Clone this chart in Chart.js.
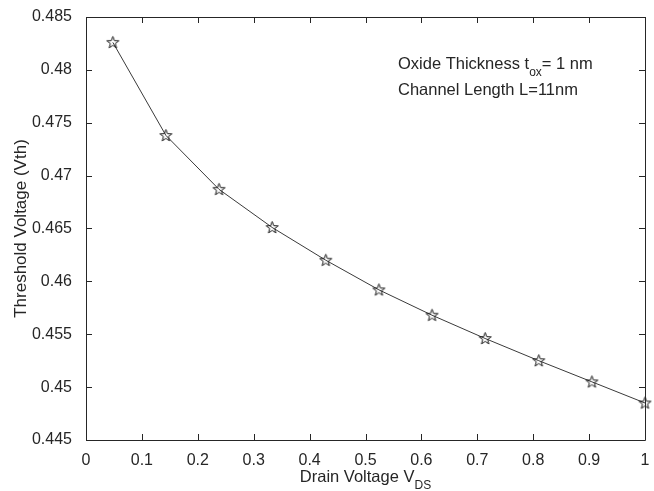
<!DOCTYPE html>
<html lang="en">
<head>
  <meta charset="UTF-8" />
  <title>Threshold Voltage vs Drain Voltage</title>
  <script src="https://cdn.jsdelivr.net/npm/chart.js"></script>
  <style>
    body { margin: 0; background: #fff; }
    #vthChart { display: block; }
  </style>
</head>
<body>
  <canvas id="vthChart" width="654" height="491"></canvas>

  <script>
    // values
    const drainVoltage = [0.048, 0.143, 0.238, 0.333, 0.429, 0.524, 0.619, 0.714, 0.810, 0.905, 1.0];
    const thresholdVoltage = [0.4826, 0.4738, 0.4687, 0.4651, 0.4620, 0.4592, 0.4568, 0.4546, 0.4525, 0.4505, 0.4485];
    const xTicks = [0, 0.1, 0.2, 0.3, 0.4, 0.5, 0.6, 0.7, 0.8, 0.9, 1];
    const yTicks = [0.445, 0.45, 0.455, 0.46, 0.465, 0.47, 0.475, 0.48, 0.485];

    const FONT = "'Liberation Sans', Arial, sans-serif";
    const INK = "#262626";

    // five pointed star marker, outline only
    function makeStar() {
      const c = document.createElement("canvas");
      c.width = 15; c.height = 15;
      const g = c.getContext("2d");
      g.strokeStyle = "#1a1a1a";
      g.lineWidth = 1;
      g.beginPath();
      for (let i = 0; i < 10; i++) {
        const r = i % 2 === 0 ? 6.3 : 2.6;
        const a = -Math.PI / 2 + i * Math.PI / 5;
        const px = 7.5 + r * Math.cos(a), py = 7.8 + r * Math.sin(a);
        if (i === 0) g.moveTo(px, py); else g.lineTo(px, py);
      }
      g.closePath();
      g.stroke();
      return c;
    }

    function fmt(v) {
      return String(Number(v.toFixed(3)));
    }

    // box, inward ticks on all four sides, titles and the note
    const matlabFrame = {
      id: "matlabFrame",
      afterDraw(chart) {
        const { ctx, chartArea: a, scales } = chart;
        const len = 6;
        ctx.save();
        ctx.strokeStyle = INK;
        ctx.lineWidth = 1;
        ctx.beginPath();
        ctx.rect(Math.round(a.left) + 0.5, Math.round(a.top) + 0.5,
                 Math.round(a.right - a.left), Math.round(a.bottom - a.top));
        xTicks.forEach(t => {
          const px = Math.round(scales.x.getPixelForValue(t)) + 0.5;
          ctx.moveTo(px, a.bottom); ctx.lineTo(px, a.bottom - len);
          ctx.moveTo(px, a.top); ctx.lineTo(px, a.top + len);
        });
        yTicks.forEach(t => {
          const py = Math.round(scales.y.getPixelForValue(t)) + 0.5;
          ctx.moveTo(a.left, py); ctx.lineTo(a.left + len, py);
          ctx.moveTo(a.right, py); ctx.lineTo(a.right - len, py);
        });
        ctx.stroke();

        ctx.fillStyle = INK;
        ctx.textBaseline = "alphabetic";

        // x title with subscript
        const main = "Drain Voltage V", sub = "DS";
        ctx.font = "16.5px " + FONT;
        const wMain = ctx.measureText(main).width;
        ctx.font = "12px " + FONT;
        const wSub = ctx.measureText(sub).width;
        let sx = (a.left + a.right) / 2 - (wMain + wSub) / 2;
        ctx.font = "16.5px " + FONT;
        ctx.fillText(main, sx, 482);
        ctx.font = "12px " + FONT;
        ctx.fillText(sub, sx + wMain, 489);

        // y title
        ctx.save();
        ctx.translate(26, (a.top + a.bottom) / 2);
        ctx.rotate(-Math.PI / 2);
        ctx.textAlign = "center";
        ctx.font = "17px " + FONT;
        ctx.fillText("Threshold Voltage (Vth)", 0, 0);
        ctx.restore();

        // note
        let nx = 398;
        ctx.font = "16.5px " + FONT;
        ctx.fillText("Oxide Thickness t", nx, 69);
        nx += ctx.measureText("Oxide Thickness t").width;
        ctx.font = "12px " + FONT;
        ctx.fillText("ox", nx, 76);
        nx += ctx.measureText("ox").width;
        ctx.font = "16.5px " + FONT;
        ctx.fillText("= 1 nm", nx, 69);
        ctx.fillText("Channel Length L=11nm", 398, 95);
        ctx.restore();
      }
    };

    const points = drainVoltage.map((x, i) => ({ x: x, y: thresholdVoltage[i] }));

    new Chart(document.getElementById("vthChart"), {
      type: "scatter",
      data: {
        datasets: [{
          data: points,
          showLine: true,
          borderColor: "#3a3a3a",
          borderWidth: 1,
          pointStyle: makeStar(),
          tension: 0,
          clip: false
        }]
      },
      options: {
        responsive: false,
        animation: false,
        layout: { padding: { top: 17, right: 9, left: 0, bottom: 0 } },
        plugins: { legend: { display: false }, tooltip: { enabled: false } },
        scales: {
          x: {
            type: "linear",
            min: 0, max: 1,
            afterBuildTicks: s => { s.ticks = xTicks.map(v => ({ value: v })); },
            afterFit: s => { s.height = 51; },
            grid: { display: false },
            border: { display: false },
            ticks: { callback: fmt, color: INK, font: { family: FONT, size: 16 }, padding: 3, maxRotation: 0 }
          },
          y: {
            type: "linear",
            min: 0.445, max: 0.485,
            afterBuildTicks: s => { s.ticks = yTicks.map(v => ({ value: v })); },
            afterFit: s => { s.width = 86; },
            grid: { display: false },
            border: { display: false },
            ticks: { callback: fmt, color: INK, font: { family: FONT, size: 16 }, padding: 6 }
          }
        }
      },
      plugins: [matlabFrame]
    });
  </script>
</body>
</html>
